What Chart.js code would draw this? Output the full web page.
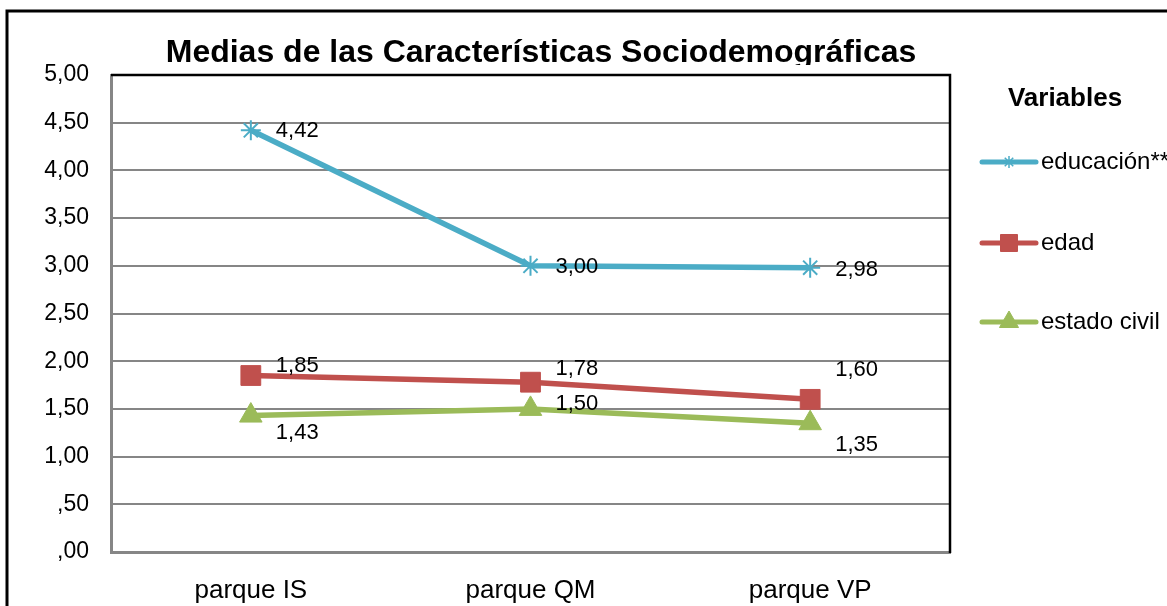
<!DOCTYPE html>
<html lang="es">
<head>
<meta charset="UTF-8">
<title>Medias de las Características Sociodemográficas</title>
<script src="https://cdn.jsdelivr.net/npm/chart.js"></script>
<style>
  body { margin: 0; padding: 0; background: #ffffff; }
  #wrap { width: 1167px; height: 606px; }
</style>
</head>
<body>
<div id="wrap"><canvas id="chart" width="1167" height="606"></canvas></div>
<script>
// data
const categories = ['parque IS', 'parque QM', 'parque VP'];
const educacion = [4.42, 3.00, 2.98];
const edad = [1.85, 1.78, 1.60];
const estadoCivil = [1.43, 1.50, 1.35];
const yTicks = [0, 0.5, 1, 1.5, 2, 2.5, 3, 3.5, 4, 4.5, 5];

const FONT = 'Arial, "Liberation Sans", sans-serif';

// vertical nudge for each value label (px), like the original layout
const labelShift = {
  'educación**': [1, 1, 2],
  'edad': [-10, -13, -29],
  'estado civil': [17, -5, 22]
};

const fmt = v => {
  const s = v.toFixed(2).replace('.', ',');
  return s.startsWith('0') ? s.slice(1) : s;
};

const frame = {
  id: 'frame',
  beforeDraw(chart) {
    const c = chart.ctx;
    c.save();
    c.fillStyle = '#fff';
    c.fillRect(0, 0, chart.width, chart.height);
    c.strokeStyle = '#000';
    c.lineWidth = 3;
    c.strokeRect(7, 11, chart.width + 20, chart.height + 20);
    // title, clipped at the bottom like the original
    c.beginPath();
    c.rect(0, 0, chart.width, 65);
    c.clip();
    c.fillStyle = '#000';
    c.font = 'bold 32px ' + FONT;
    c.textAlign = 'center';
    c.textBaseline = 'alphabetic';
    c.fillText('Medias de las Características Sociodemográficas', 541, 62);
    c.restore();
  },
  afterDraw(chart) {
    const c = chart.ctx;
    const a = chart.chartArea;
    c.save();
    // black top and right edge of the plot area
    c.strokeStyle = '#000';
    c.lineWidth = 2.5;
    c.beginPath();
    c.moveTo(a.left, a.top);
    c.lineTo(a.right, a.top);
    c.lineTo(a.right, a.bottom + 1);
    c.stroke();

    // value labels
    c.fillStyle = '#000';
    c.font = '22px ' + FONT;
    c.textAlign = 'left';
    c.textBaseline = 'middle';
    chart.data.datasets.forEach((ds, i) => {
      const meta = chart.getDatasetMeta(i);
      meta.data.forEach((pt, j) => {
        c.fillText(fmt(ds.data[j]), pt.x + 25, pt.y + labelShift[ds.label][j]);
      });
    });

    // legend
    c.font = 'bold 26px ' + FONT;
    c.textAlign = 'center';
    c.fillText('Variables', 1065, 99);
    const rows = [162, 243, 322];
    const legendRadius = [6, 12, 11];
    chart.data.datasets.forEach((ds, i) => {
      const y = rows[i];
      c.strokeStyle = ds.borderColor;
      c.lineWidth = 5;
      c.lineCap = 'round';
      c.beginPath();
      c.moveTo(982, y);
      c.lineTo(1036, y);
      c.stroke();
      c.fillStyle = ds.borderColor;
      c.strokeStyle = ds.borderColor;
      c.lineCap = 'butt';
      c.lineWidth = ds.pointStyle === 'star' ? 1.5 : 1;
      Chart.helpers.drawPoint(c, {
        pointStyle: ds.pointStyle,
        radius: legendRadius[i],
        borderWidth: c.lineWidth
      }, 1009, y);
      c.fillStyle = '#000';
      c.font = '24px ' + FONT;
      c.textAlign = 'left';
      c.fillText(ds.label, 1041, y);
    });
    c.restore();
  }
};

new Chart(document.getElementById('chart'), {
  type: 'line',
  data: {
    labels: categories,
    datasets: [
      {
        label: 'educación**',
        data: educacion,
        borderColor: '#4BACC6',
        backgroundColor: '#4BACC6',
        borderWidth: 5.5,
        pointStyle: 'star',
        pointRadius: 10,
        pointBorderWidth: 2,
        pointBorderColor: '#4BACC6'
      },
      {
        label: 'edad',
        data: edad,
        borderColor: '#C0504D',
        backgroundColor: '#C0504D',
        borderWidth: 5.5,
        pointStyle: 'rect',
        pointRadius: 14,
        pointBorderWidth: 1,
        pointBorderColor: '#C0504D'
      },
      {
        label: 'estado civil',
        data: estadoCivil,
        borderColor: '#9BBB59',
        backgroundColor: '#9BBB59',
        borderWidth: 5.5,
        pointStyle: 'triangle',
        pointRadius: 13,
        pointBorderWidth: 1,
        pointBorderColor: '#9BBB59'
      }
    ]
  },
  options: {
    responsive: false,
    animation: false,
    devicePixelRatio: 1,
    layout: { padding: { top: 75, right: 217, left: 0, bottom: 0 } },
    plugins: {
      legend: { display: false },
      title: { display: false },
      tooltip: { enabled: false }
    },
    scales: {
      x: {
        offset: true,
        grid: { display: false, drawTicks: false },
        border: { display: true, color: '#868686', width: 3 },
        ticks: { color: '#000', font: { family: FONT, size: 26 }, padding: 23 },
        afterFit(s) { s.height = 54; }
      },
      y: {
        min: 0,
        max: 5,
        afterBuildTicks(s) { s.ticks = yTicks.map(v => ({ value: v })); },
        grid: { color: '#868686', lineWidth: 2, drawTicks: false },
        border: { display: true, color: '#868686', width: 3 },
        ticks: {
          color: '#000',
          font: { family: FONT, size: 23 },
          padding: 22,
          callback: v => fmt(v)
        },
        afterFit(s) { s.width = 111; }
      }
    }
  },
  plugins: [frame]
});
</script>
</body>
</html>
